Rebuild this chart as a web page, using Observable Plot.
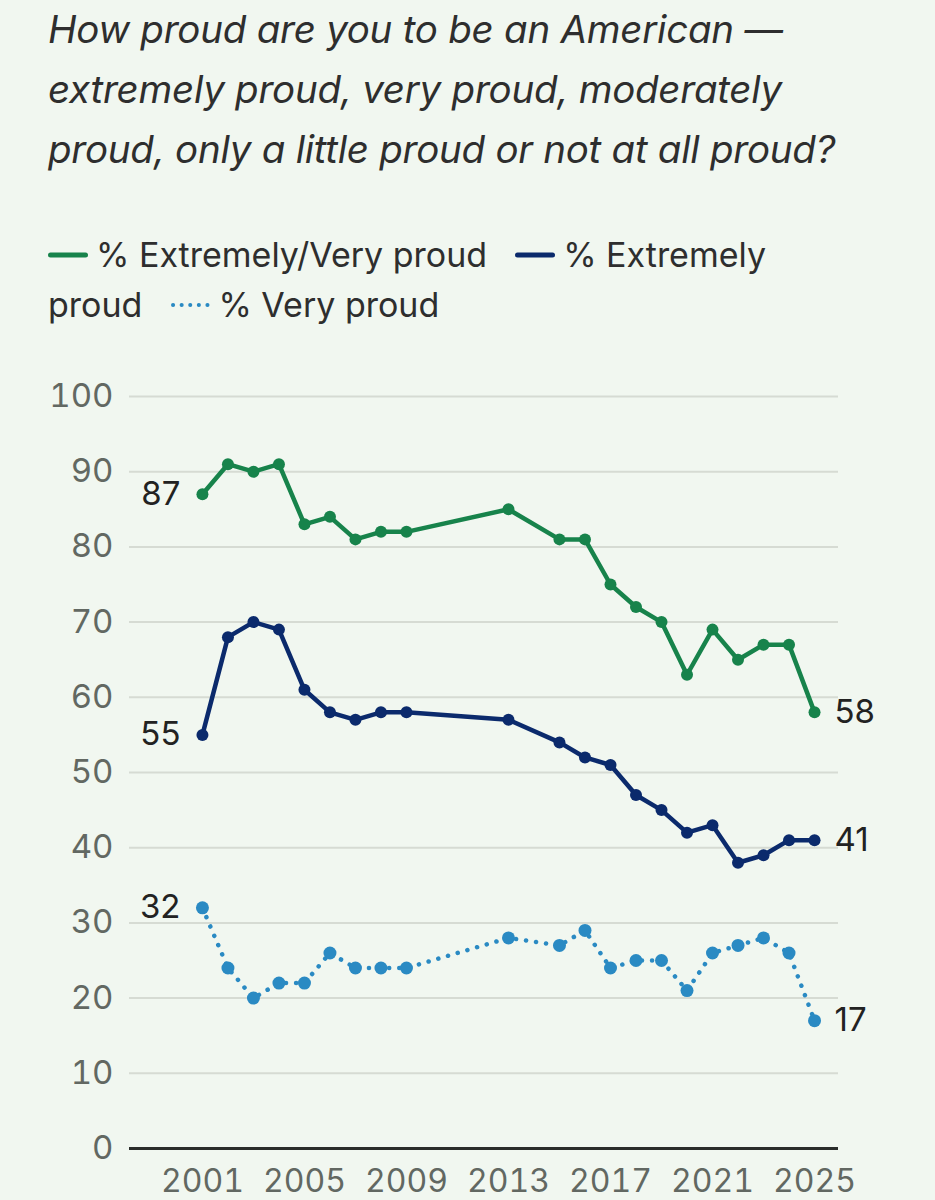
<!DOCTYPE html>
<html>
<head>
<meta charset="utf-8">
<script src="https://cdn.jsdelivr.net/npm/d3@7"></script>
<script src="https://cdn.jsdelivr.net/npm/@observablehq/plot@0.6"></script>
<style>
  html, body { margin: 0; padding: 0; background: #f1f7f0; width: 935px; height: 1200px; overflow: hidden; }
  body { position: relative; font-family: Inter, "Liberation Sans", Arial, sans-serif; }
  #title { position: absolute; left: 48px; top: -1px; font-size: 38.5px; line-height: 60px; font-style: italic; color: #2e2e2e; letter-spacing: -0.25px; white-space: nowrap; }
  #legend { position: absolute; left: 48px; top: 230px; width: 800px; font-size: 34px; line-height: 50px; color: #2e2e2e; white-space: nowrap; }
  .sw { display: inline-block; vertical-align: middle; margin-right: 8px; position: relative; top: -3px; }
  #chart { position: absolute; left: 0; top: 360px; }
</style>
</head>
<body>
<div id="title">How proud are you to be an American —<br>extremely proud, very proud, moderately<br>proud, only a little proud or not at all proud?</div>
<div id="legend"></div>
<div id="chart"></div>
<script>
// ---- data ----
const years = [2001, 2002, 2003, 2004, 2005, 2006, 2007, 2008, 2009, 2013, 2015, 2016, 2017, 2018, 2019, 2020, 2021, 2022, 2023, 2024, 2025];
const extremelyVeryProud = [87, 91, 90, 91, 83, 84, 81, 82, 82, 85, 81, 81, 75, 72, 70, 63, 69, 65, 67, 67, 58];
const extremelyProud = [55, 68, 70, 69, 61, 58, 57, 58, 58, 57, 54, 52, 51, 47, 45, 42, 43, 38, 39, 41, 41];
const veryProud = [32, 24, 20, 22, 22, 26, 24, 24, 24, 28, 27, 29, 24, 25, 25, 21, 26, 27, 28, 26, 17];
const seriesNames = ["% Extremely/Very proud", "% Extremely proud", "% Very proud"];
const seriesColors = ["#17834b", "#0b2a6c", "#2a8ac3"];
const xTicks = [2001, 2005, 2009, 2013, 2017, 2021, 2025];
const yTicks = [0, 10, 20, 30, 40, 50, 60, 70, 80, 90, 100];

// ---- legend ----
function swatch(color, dotted) {
  return dotted
    ? `<svg class="sw" width="40" height="10"><line x1="3" y1="5" x2="38" y2="5" stroke="${color}" stroke-width="4" stroke-linecap="round" stroke-dasharray="0.1,8.5"/></svg>`
    : `<svg class="sw" width="40" height="10"><line x1="2.5" y1="5" x2="37.5" y2="5" stroke="${color}" stroke-width="5" stroke-linecap="round"/></svg>`;
}
const gap = `<span style="display:inline-block;width:28px"></span>`;
document.getElementById("legend").innerHTML =
  `<span>${swatch(seriesColors[0])}${seriesNames[0]}</span>${gap}` +
  `<span>${swatch(seriesColors[1])}% Extremely</span><br>` +
  `<span>proud</span>${gap}` +
  `<span>${swatch(seriesColors[2], true)}${seriesNames[2]}</span>`;

// ---- tidy table ----
const allSeries = [extremelyVeryProud, extremelyProud, veryProud];
const rows = [];
allSeries.forEach((vals, i) => vals.forEach((v, j) => rows.push({year: years[j], value: v, series: seriesNames[i]})));
const bySeries = (name) => rows.filter(d => d.series === name);
const firsts = seriesNames.map(n => bySeries(n)[0]);
const lasts = seriesNames.map(n => bySeries(n).at(-1));

const chart = Plot.plot({
  width: 935,
  height: 840,
  marginLeft: 129,
  marginRight: 97,
  marginTop: 36,
  marginBottom: 52,
  style: { background: "transparent", fontFamily: "Inter, 'Liberation Sans', Arial, sans-serif", overflow: "visible" },
  x: { domain: [1998.14, 2025.94], label: null },
  y: { domain: [0, 100], label: null },
  marks: [
    Plot.gridY(yTicks.filter(d => d > 0), { stroke: "#d6dbd3", strokeOpacity: 1, strokeWidth: 2 }),
    Plot.ruleY([0], { stroke: "#2a2d2a", strokeWidth: 3 }),
    Plot.axisY(yTicks, { tickSize: 0, tickPadding: 16, fontSize: 33, fill: "#626862", label: null }),
    Plot.axisX(xTicks, { tickSize: 0, tickPadding: 21, fontSize: 32, fill: "#626862", tickFormat: d => String(d), label: null }),
    // solid series
    Plot.line(bySeries(seriesNames[0]), { x: "year", y: "value", stroke: seriesColors[0], strokeWidth: 4.5 }),
    Plot.dot(bySeries(seriesNames[0]), { x: "year", y: "value", fill: seriesColors[0], r: 6 }),
    Plot.line(bySeries(seriesNames[1]), { x: "year", y: "value", stroke: seriesColors[1], strokeWidth: 4.5 }),
    Plot.dot(bySeries(seriesNames[1]), { x: "year", y: "value", fill: seriesColors[1], r: 6 }),
    // dotted series
    Plot.line(bySeries(seriesNames[2]), { x: "year", y: "value", stroke: seriesColors[2], strokeWidth: 4.5, strokeDasharray: "0.1,10", strokeLinecap: "round" }),
    Plot.dot(bySeries(seriesNames[2]), { x: "year", y: "value", fill: seriesColors[2], r: 6.5 }),
    // end labels
    Plot.text(firsts, { x: "year", y: "value", text: d => String(d.value), textAnchor: "end", dx: -22, fontSize: 33, fill: "#222" }),
    Plot.text(lasts, { x: "year", y: "value", text: d => String(d.value), textAnchor: "start", dx: 20, fontSize: 33, fill: "#222" })
  ]
});
document.getElementById("chart").appendChild(chart);
</script>
</body>
</html>
